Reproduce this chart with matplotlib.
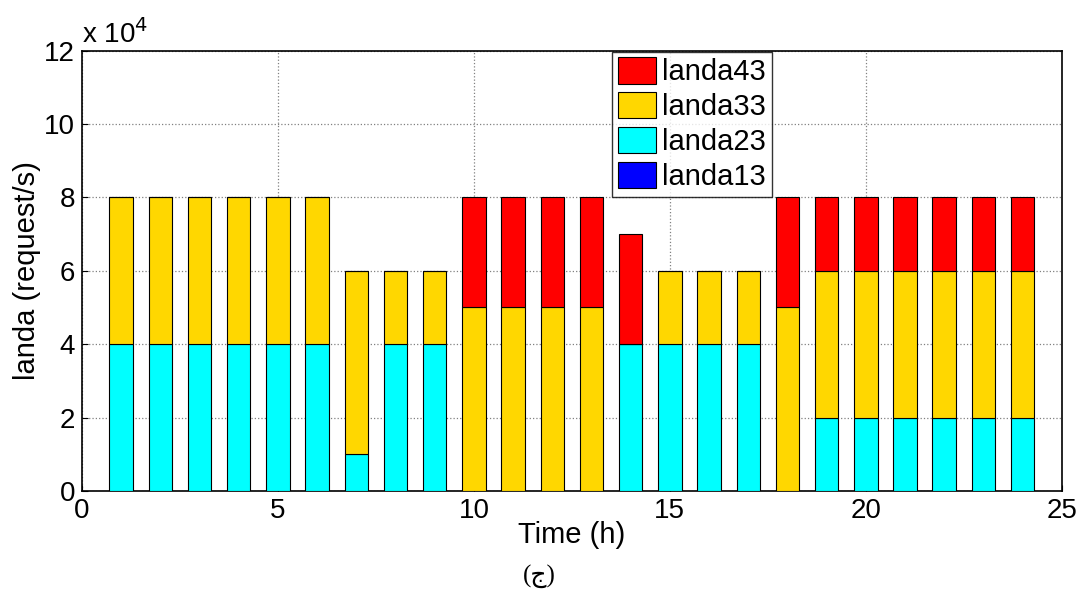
import matplotlib.pyplot as plt
import numpy as np

plt.rcParams['font.family'] = ['Liberation Sans', 'DejaVu Sans']

hours = np.arange(1, 25)
# arrival rates per hour, in units of 1e4 request/s
landa13 = [0] * 24
landa23 = [4, 4, 4, 4, 4, 4, 1, 4, 4, 0, 0, 0, 0, 4, 4, 4, 4, 0, 2, 2, 2, 2, 2, 2]
landa33 = [4, 4, 4, 4, 4, 4, 5, 2, 2, 5, 5, 5, 5, 0, 2, 2, 2, 5, 4, 4, 4, 4, 4, 4]
landa43 = [0, 0, 0, 0, 0, 0, 0, 0, 0, 3, 3, 3, 3, 3, 0, 0, 0, 3, 2, 2, 2, 2, 2, 2]

series = [
    ('landa13', landa13, '#0000ff'),
    ('landa23', landa23, '#00ffff'),
    ('landa33', landa33, '#ffd700'),
    ('landa43', landa43, '#ff0000'),
]

fig = plt.figure(figsize=(10.78, 5.90), dpi=100)
ax = fig.add_axes([0.076, 0.168, 0.909, 0.746])

bottom = np.zeros(24)
handles = []
for name, vals, color in series:
    v = np.array(vals, dtype=float) * 1e4
    h = ax.bar(hours, v, width=0.6, bottom=bottom, color=color,
               edgecolor='black', linewidth=0.8, label=name, zorder=3)
    handles.append(h)
    bottom += v

ax.set_xlim(0, 25)
ax.set_ylim(0, 12e4)
ax.set_xticks([0, 5, 10, 15, 20, 25])
ax.set_yticks(np.arange(0, 12.1e4, 2e4))
ax.set_yticklabels([str(int(t)) for t in np.arange(0, 13, 2)])
ax.tick_params(labelsize=20, direction='in', length=4, pad=5)
ax.grid(True, linestyle=':', color='gray', linewidth=0.9, zorder=0)
for s in ax.spines.values():
    s.set_linewidth(1.2)

ax.text(0.0, 1.005, r'x 10$^4$', transform=ax.transAxes, fontsize=20,
        va='bottom', ha='left')

ax.set_xlabel('Time (h)', fontsize=21, labelpad=-2)
ax.set_ylabel('landa (request/s)', fontsize=21, labelpad=2)

leg = ax.legend(handles[::-1], [s[0] for s in series][::-1],
                loc='upper right', bbox_to_anchor=(0.704, 0.998),
                fontsize=21, frameon=True, fancybox=False,
                edgecolor='black', handlelength=1.3, handleheight=1.0,
                handletextpad=0.2, borderpad=0.2, labelspacing=0.2,
                borderaxespad=0)
leg.get_frame().set_linewidth(1.0)

fig.text(0.5, 0.003, '(ج)', ha='center', va='bottom', fontsize=18,
         family=['Liberation Serif', 'DejaVu Sans'])

fig.savefig('out.png', dpi=100, facecolor='white')
